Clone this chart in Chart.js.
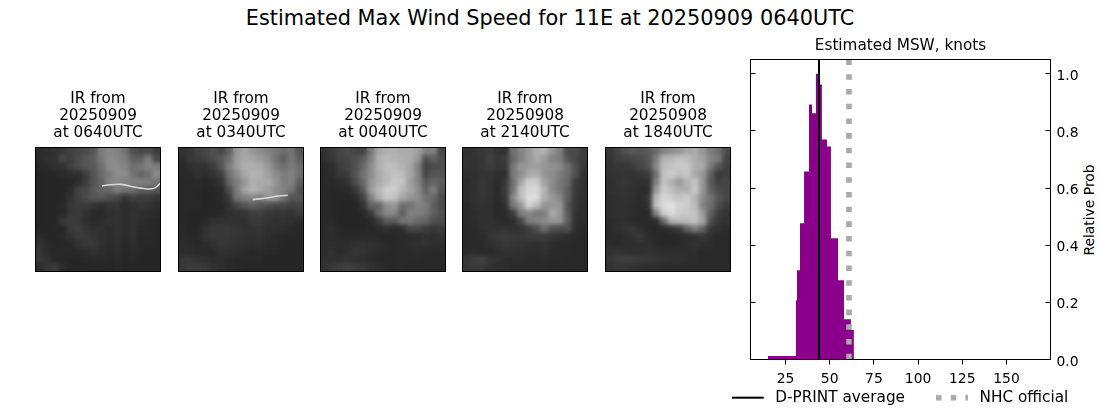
<!DOCTYPE html>
<html><head><meta charset="utf-8">
<script src="https://cdn.jsdelivr.net/npm/chart.js@4"></script>
<style>
html,body{margin:0;padding:0;background:#fff;width:1100px;height:409px;overflow:hidden;font-family:"DejaVu Sans",sans-serif;color:#000}
canvas{position:absolute;display:block}
#sup{position:absolute;left:0;width:1100px;top:6px;text-align:center;font-size:20.83px;line-height:25px}
#yl{position:absolute;left:1088.5px;top:210px;font-size:13.89px;line-height:16px;white-space:nowrap;transform:translate(-50%,-50%) rotate(-90deg)}
</style></head><body>
<div id="sup">Estimated Max Wind Speed for 11E at 20250909 0640UTC</div>
<div id="yl">Relative Prob</div>
<script>
const binEdges=[15.1,30.9,31.5,33.2,35.5,38.3,40,42.2,44.5,45.6,48.5,50.7,54.7,58.1,62,63.7];
const binHeights=[0.012,0.207,0.312,0.477,0.658,0.893,0.862,1.0,0.963,0.77,0.746,0.424,0.277,0.141,0.103,0];
const dprintAverage=43.95;
const nhcOfficial=60.9;
const xTickValues=[25,50,75,100,125,150];
const yTickValues=[0,0.2,0.4,0.6,0.8,1.0];
const panelTitles=[
["IR from","20250909","at 0640UTC"],
["IR from","20250909","at 0340UTC"],
["IR from","20250909","at 0040UTC"],
["IR from","20250908","at 2140UTC"],
["IR from","20250908","at 1840UTC"]];
const panelLeft=[35.5,178.5,320.5,462.5,605.5];
const panelRight=[160.5,303.5,445.5,587.5,730.5];
const ir0=[
[42,45,50,55,65,70,75,85,125,135,130,115,80,70,75,60],
[42,48,50,70,60,75,85,95,120,140,135,125,95,95,125,75],
[40,42,48,48,62,75,85,90,110,140,140,130,110,120,130,125],
[38,38,40,42,45,45,60,85,105,125,140,140,115,100,110,140],
[38,38,38,38,38,45,62,85,100,130,135,130,125,130,125,115],
[38,38,38,38,45,65,72,90,100,105,125,115,110,95,90,85],
[38,38,38,38,50,62,75,85,85,78,72,52,65,60,60,52],
[38,38,38,40,55,60,58,52,48,52,55,45,48,55,50,45],
[38,38,38,40,55,58,50,42,40,48,50,45,50,48,45,42],
[38,38,38,55,60,58,48,42,45,50,50,44,50,45,42,40],
[38,38,40,40,58,60,52,48,48,45,50,45,50,42,42,40],
[45,38,38,42,50,58,58,52,48,45,50,43,48,40,40,40],
[50,42,38,40,42,50,55,55,48,42,47,40,45,40,40,40],
[55,45,40,40,40,42,45,50,45,42,45,38,42,40,38,38],
[55,50,42,40,38,38,40,42,42,40,42,38,40,38,38,38],
[45,55,60,45,38,38,38,38,38,38,40,38,38,38,38,38]];
const ir1=[
[50,55,65,70,80,70,95,150,165,150,140,130,120,110,115,85],
[45,55,60,65,75,90,110,155,170,165,155,140,115,95,120,95],
[42,48,50,50,60,85,125,155,175,175,170,155,125,110,125,110],
[40,42,48,45,50,60,110,140,165,180,175,160,140,125,130,110],
[40,40,42,40,42,50,100,125,150,175,170,170,150,125,130,95],
[40,40,40,38,38,42,75,125,165,180,170,160,140,130,115,80],
[40,40,40,38,38,42,60,115,130,135,125,150,150,115,85,85],
[40,40,40,38,38,40,50,70,85,95,85,80,70,70,65,70],
[40,38,38,38,38,42,48,50,52,60,62,55,52,55,50,60],
[40,38,38,40,48,50,50,50,48,58,58,52,48,50,48,42],
[42,38,38,48,55,55,55,52,50,50,52,48,48,45,42,40],
[42,40,40,52,55,55,55,52,50,48,50,45,42,40,40,40],
[45,42,40,45,50,55,52,50,48,45,48,42,42,40,38,38],
[45,45,42,42,42,48,48,45,42,40,42,40,40,38,38,38],
[55,55,50,48,45,45,42,40,40,40,40,38,38,38,38,38],
[55,60,60,58,50,45,42,40,38,38,38,38,38,38,38,38]];
const ir2=[
[50,60,70,75,70,65,120,165,175,175,170,170,160,130,130,70],
[48,55,65,70,80,95,130,175,185,180,175,170,150,80,95,80],
[42,45,60,68,80,105,140,175,190,190,180,165,130,65,75,80],
[40,45,55,60,85,115,140,170,185,195,190,165,135,70,85,85],
[42,42,45,50,75,105,150,170,185,200,195,160,135,90,100,95],
[42,40,42,42,55,90,155,185,205,205,185,165,140,100,125,85],
[42,40,38,38,45,65,130,175,200,195,165,150,140,115,105,75],
[42,40,38,38,38,52,100,100,145,150,110,115,130,125,95,75],
[40,40,38,38,38,40,60,105,135,135,95,130,125,120,95,80],
[40,40,38,38,38,38,42,60,90,90,115,120,105,100,80,75],
[42,45,40,38,38,38,40,42,48,42,45,70,70,62,55,60],
[42,45,42,42,42,42,42,42,40,40,42,45,45,50,48,50],
[45,45,45,45,48,50,48,45,42,40,42,45,48,50,45,45],
[45,50,42,48,55,50,45,42,42,40,42,42,45,42,42,42],
[48,48,50,50,48,48,45,42,40,40,42,42,42,40,40,40],
[50,58,62,65,62,58,50,45,42,40,42,40,40,40,40,40]];
const ir3=[
[50,52,55,60,52,50,110,130,150,175,180,150,125,75,75,60],
[52,50,55,65,55,60,105,130,150,170,155,130,125,85,70,60],
[52,50,55,60,55,55,120,150,155,160,150,145,140,110,80,55],
[48,48,52,52,48,48,120,140,170,175,150,140,125,110,80,50],
[45,48,55,52,45,55,110,165,205,205,165,140,120,105,60,48],
[45,48,55,52,42,60,115,190,215,215,180,140,120,95,58,48],
[45,50,52,50,42,55,135,185,220,220,175,155,135,95,55,48],
[42,48,50,48,40,48,120,150,210,190,150,150,150,85,55,45],
[42,45,48,48,42,42,60,125,135,120,125,170,150,90,50,45],
[42,45,48,48,45,42,45,70,125,130,140,150,145,95,48,45],
[42,42,48,50,50,52,50,50,60,80,110,80,75,80,45,42],
[42,42,42,50,58,60,58,55,60,60,60,55,50,45,42,40],
[42,42,42,48,50,55,52,52,50,48,52,45,42,42,40,40],
[42,45,42,42,45,50,50,48,45,45,48,42,42,42,40,40],
[55,62,65,55,48,45,45,45,42,42,45,42,42,40,40,40],
[55,58,58,50,45,45,42,42,42,42,42,40,40,40,40,40]];
const ir4=[
[55,65,80,90,85,90,105,130,140,150,165,170,150,125,110,75],
[52,60,65,70,75,85,125,180,185,195,190,175,160,135,120,70],
[50,55,55,60,70,80,135,190,195,205,200,175,170,120,85,65],
[50,50,52,50,55,60,110,195,205,190,200,170,150,95,55,65],
[48,50,55,50,48,50,130,195,175,155,180,195,150,90,65,70],
[48,50,52,48,45,45,150,205,190,175,175,200,150,95,75,70],
[45,48,50,48,42,55,185,215,205,195,205,180,140,115,85,70],
[45,48,48,45,42,50,190,220,225,210,205,185,130,110,75,60],
[45,48,48,45,42,42,130,205,220,205,200,195,150,95,62,52],
[42,45,48,42,42,42,45,110,180,185,190,195,165,80,55,50],
[42,48,52,55,48,42,40,42,50,62,100,125,100,55,48,45],
[42,42,48,50,58,45,42,40,40,42,45,48,55,48,42,42],
[45,42,45,45,48,48,42,40,40,42,45,50,45,45,42,42],
[50,52,50,48,48,50,48,45,45,45,45,45,42,42,42,42],
[55,60,62,62,58,55,52,50,48,48,45,45,42,42,42,42],
[50,52,52,50,48,45,45,42,42,42,42,42,42,42,42,42]];
const irGrids=[ir0,ir1,ir2,ir3,ir4];
const streak0X=[8.5,9.5,11,12.7,14.4,15.3,16];
const streak0Y=[4.95,4.8,4.75,5.1,5.35,5.2,4.6];
const streak1X=[9.5,11,12.7,14];
const streak1Y=[6.7,6.55,6.25,6.15];
const streaks=[[streak0X,streak0Y],[streak1X,streak1Y],[[],[]],[[],[]],[[],[]]];

Chart.defaults.font.family='"DejaVu Sans"';
Chart.defaults.color='#000';
Chart.defaults.animation=false;
Chart.defaults.responsive=false;

const frame={id:'frame',afterDraw(c){const a=c.chartArea,x=c.ctx;x.save();x.strokeStyle='#000';x.lineWidth=1;
  const l=Math.floor(a.left)+.5,t=Math.floor(a.top)+.5,w=Math.round(a.right-a.left),h=Math.round(a.bottom-a.top);
  x.strokeRect(l,t,w,h);
  if(c.scales.yTicksInside){const s=c.scales.yTicksInside;x.beginPath();
    yTickValues.forEach(v=>{const y=Math.floor(s.getPixelForValue(v))+.5;x.moveTo(l,y);x.lineTo(l+5,y);x.moveTo(l+w,y);x.lineTo(l+w-5,y);});x.stroke();}
  x.restore();}};
const darkBlur={id:'darkBlur',
  beforeDatasetsDraw(c){const a=c.chartArea,x=c.ctx;x.save();x.fillStyle='#2a2a2a';x.fillRect(a.left,a.top,a.right-a.left,a.bottom-a.top);x.restore();},
  afterDatasetDraw(c,args){if(args.index!==0)return;const a=c.chartArea,x=c.ctx;
    x.save();x.beginPath();x.rect(a.left,a.top,a.right-a.left,a.bottom-a.top);x.clip();x.filter='blur(2px)';
    x.drawImage(c.canvas,a.left,a.top,a.right-a.left,a.bottom-a.top,a.left,a.top,a.right-a.left,a.bottom-a.top);x.restore();}};

const panelTop=80;
panelTitles.forEach((t,i)=>{
  const cv=document.createElement('canvas');
  const L=Math.floor(panelLeft[i])-12,W=125+24;
  const H=200;
  cv.width=W;cv.height=H;cv.style.left=L+'px';cv.style.top=panelTop+'px';cv.style.width=W+'px';cv.style.height=H+'px';
  document.body.appendChild(cv);
  const cells=[];const cols=[];
  irGrids[i].forEach((row,r)=>row.forEach((v,c)=>{cells.push({x:c+.5,y:r+.5});cols.push(`rgb(${v},${v},${v})`);}));
  const [sx,sy]=streaks[i];
  const padL=panelLeft[i]-L;
  new Chart(cv,{type:'scatter',data:{datasets:[
    {order:2,data:cells,pointStyle:'rect',pointRadius:6,pointBorderWidth:0,borderWidth:0,backgroundColor:cols,pointBackgroundColor:cols},
    {order:1,type:'line',data:sx.map((v,k)=>({x:v,y:sy[k]})),borderColor:'#d8d8d8',borderWidth:1.6,pointRadius:0,tension:.3}
  ]},options:{devicePixelRatio:1,
    layout:{padding:{left:padL,right:W-125-padL,top:0,bottom:8.5}},
    plugins:{legend:{display:false},tooltip:{enabled:false},
      title:{display:true,text:t,font:{size:15.28,weight:'normal',lineHeight:1.115},padding:{top:10.5,bottom:6},color:'#000'}},
    scales:{x:{type:'linear',min:0,max:16,display:false},y:{type:'linear',min:0,max:16,reverse:true,display:false}}},
    plugins:[darkBlur,frame]});
});

function legendLine(color,width,dash){
  const c=document.createElement('canvas');c.width=36;c.height=8;const x=c.getContext('2d');
  x.strokeStyle=color;x.lineWidth=width;x.setLineDash(dash);x.beginPath();x.moveTo(0,4);x.lineTo(32,4);x.stroke();return c;}
const icons=[legendLine('#000',2,[]),legendLine('#a9a9a9',5.55,[5.55,9.16])];

function place(cv,L,T,W,H){cv.width=W;cv.height=H;cv.style.left=L+'px';cv.style.top=T+'px';cv.style.width=W+'px';cv.style.height=H+'px';document.body.appendChild(cv);}
const mc=document.createElement('canvas');
place(mc,700,25,401,384);
new Chart(mc,{type:'line',data:{datasets:[
  {label:'Estimated MSW',yAxisID:'y',data:binEdges.map((v,k)=>({x:v,y:binHeights[k]})),stepped:'before',fill:'origin',backgroundColor:'#8b008b',borderWidth:0,pointRadius:0,order:3},
  {label:'NHC official',yAxisID:'y',data:[{x:nhcOfficial,y:1.05},{x:nhcOfficial,y:0}],borderColor:'#a9a9a9',borderWidth:5.55,borderDash:[5.55,9.16],pointRadius:0,order:2},
  {label:'D-PRINT average',yAxisID:'y',data:[{x:dprintAverage,y:0},{x:dprintAverage,y:1.05}],borderColor:'#000',borderWidth:2,pointRadius:0,order:1}
]},options:{devicePixelRatio:1,
  plugins:{tooltip:{enabled:false},legend:{display:false},
    title:{display:true,text:'Estimated MSW, knots',font:{size:15.28,weight:'normal',lineHeight:1.2},padding:{top:12,bottom:4.2},color:'#000'}},
  scales:{
    x:{type:'linear',min:5.2,max:174.9,afterBuildTicks(s){s.ticks=xTickValues.map(v=>({value:v}));},
      afterFit(s){s.height=49.5;},
      ticks:{font:{size:13.89},color:'#000',padding:7,maxRotation:0,autoSkip:false},
      grid:{display:true,drawOnChartArea:false,drawTicks:true,tickLength:5,color:'#000',tickWidth:1},border:{display:false}},
    yTicksInside:{type:'linear',position:'left',min:0,max:1.05,afterFit(s){s.width=50.5;},
      ticks:{display:false},grid:{display:false,drawTicks:false},border:{display:false}},
    y:{type:'linear',position:'right',min:0,max:1.05,afterBuildTicks(s){s.ticks=yTickValues.map(v=>({value:v}));},
      ticks:{font:{size:13.89},color:'#000',padding:6,labelOffset:2.5,callback:v=>v.toFixed(1),autoSkip:false},
      afterFit(s){s.width=50.5;},
      grid:{display:false,drawTicks:false},border:{display:false}}
  }},plugins:[frame]});

const lc=document.createElement('canvas');
place(lc,680,359,440,100);
new Chart(lc,{type:'line',data:{datasets:[]},options:{devicePixelRatio:1,
  plugins:{tooltip:{enabled:false},
    legend:{position:'top',align:'center',labels:{usePointStyle:true,pointStyleWidth:36,padding:31,boxHeight:8,font:{size:15.28},color:'#000',
      generateLabels(){return [
        {text:'D-PRINT average',pointStyle:icons[0],fillStyle:'#000',strokeStyle:'#000',lineWidth:0,hidden:false},
        {text:'NHC official',pointStyle:icons[1],fillStyle:'#a9a9a9',strokeStyle:'#a9a9a9',lineWidth:0,hidden:false}];}}}},
  scales:{x:{display:false},y:{display:false}}}});
</script></body></html>
